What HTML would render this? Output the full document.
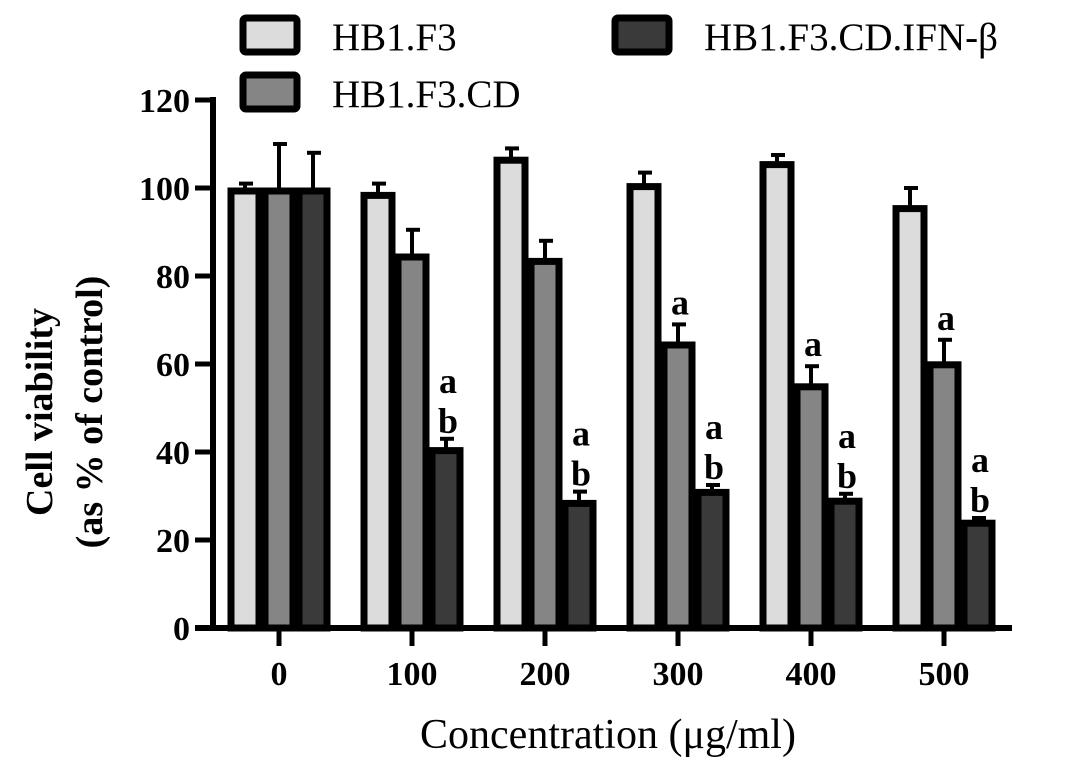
<!DOCTYPE html>
<html><head><meta charset="utf-8"><style>
body{margin:0;background:#fff;width:1087px;height:770px;overflow:hidden}
svg text{font-family:"Liberation Serif",serif;fill:#000}
</style></head><body>
<svg id="chart" width="1087" height="770">
<g id="legend"></g>
<g id="axes"></g>
<g id="bars"></g>
</svg>
<script>
const categories=["0","100","200","300","400","500"];
const seriesNames=["HB1.F3","HB1.F3.CD","HB1.F3.CD.IFN-β"];
const s1=[100,99,107,101,106,96];
const s2=[100,85,84,65,55.5,60.5];
const s3=[100,41,29,31.5,29.5,24.5];
const e1=[1,2,2,2.5,1.5,4];
const e2=[10,5.5,4,4,4,5];
const e3=[8,2,2,1,1,0.5];
const ann2=["","","","a","a","a"];
const ann3=["","ab","ab","ab","ab","ab"];
const yTicks=[0,20,40,60,80,100,120];
const fills=["#dcdcdc","#858585","#3a3a3a"];
const NS="http://www.w3.org/2000/svg";
const y=v=>628-v*4.4;
const x=i=>279+i*133;
function mk(p,t,a){const e=document.createElementNS(NS,t);for(const k in a)e.setAttribute(k,a[k]);p.appendChild(e);return e;}
const ax=document.getElementById('axes'),bg=document.getElementById('bars'),lg=document.getElementById('legend');
const lp=[[240,15],[240,72],[612,15]];
seriesNames.forEach((n,k)=>{
 const r=mk(lg,'rect',{x:lp[k][0]+3,y:lp[k][1]+3,width:54,height:34,fill:fills[k],stroke:'#000','stroke-width':7,rx:3});
 
 
 const t=mk(lg,'text',{x:lp[k][0]+92,y:lp[k][1]+35,'font-size':39});
 t.textContent=n;
 
 
});
const yl=mk(ax,'line',{x1:213,y1:y(0)+3,x2:213,y2:y(120)-3,stroke:'#000','stroke-width':6});


const xl=mk(ax,'line',{x1:195,y1:628,x2:1012,y2:628,stroke:'#000','stroke-width':6});


yTicks.forEach(v=>{
 mk(ax,'line',{x1:195,y1:y(v),x2:213,y2:y(v),stroke:'#000','stroke-width':5});
 const t=mk(ax,'text',{x:190,y:y(v)+12,'font-size':34,'font-weight':'bold','text-anchor':'end'});
 t.textContent=v;
 
 
});
categories.forEach((c,i)=>{
 mk(ax,'line',{x1:x(i),y1:628,x2:x(i),y2:646,stroke:'#000','stroke-width':5});
 const t=mk(ax,'text',{x:x(i),y:685,'font-size':34,'font-weight':'bold','text-anchor':'middle'});
 t.textContent=c;
 
 
});
const yt=mk(ax,'text',{transform:'translate(52,412) rotate(-90)','font-size':38,'font-weight':'bold','text-anchor':'middle'});
yt.textContent='Cell viability';


const yt2=mk(ax,'text',{transform:'translate(102,412) rotate(-90)','font-size':38,'font-weight':'bold','text-anchor':'middle'});
yt2.textContent='(as % of control)';


const xt=mk(ax,'text',{x:608,y:748,'font-size':42,'text-anchor':'middle'});
xt.textContent='Concentration (μg/ml)';


const S=[s1,s2,s3],E=[e1,e2,e3];
categories.forEach((c,i)=>{
 S.forEach((s,k)=>{
  const cx=x(i)+(k-1)*34;
  const top=y(s[i]+E[k][i]);
  mk(bg,'line',{x1:cx,y1:y(s[i]),x2:cx,y2:top,stroke:'#000','stroke-width':4});
  mk(bg,'line',{x1:cx-6,y1:top,x2:cx+8,y2:top,stroke:'#000','stroke-width':4});
  const r=mk(bg,'rect',{x:cx-14,y:y(s[i])+3,width:28,height:628-y(s[i])-3,fill:fills[k],stroke:'#000','stroke-width':7});
  
  
 });
 if(ann2[i]){
  const t=mk(bg,'text',{x:x(i)+2,y:y(s2[i]+e2[i])-10,'font-size':36,'font-weight':'bold','text-anchor':'middle'});
  t.textContent=ann2[i];
  
  
 }
 if(ann3[i]){
  const cx=x(i)+36,b=y(s3[i]+e3[i])-6;
  const t1=mk(bg,'text',{x:cx,y:b-40,'font-size':36,'font-weight':'bold','text-anchor':'middle'});
  t1.textContent=ann3[i][0];
  
  
  const t2=mk(bg,'text',{x:cx,y:b,'font-size':36,'font-weight':'bold','text-anchor':'middle'});
  t2.textContent=ann3[i][1];
  
  
 }
});
</script>
</body></html>
